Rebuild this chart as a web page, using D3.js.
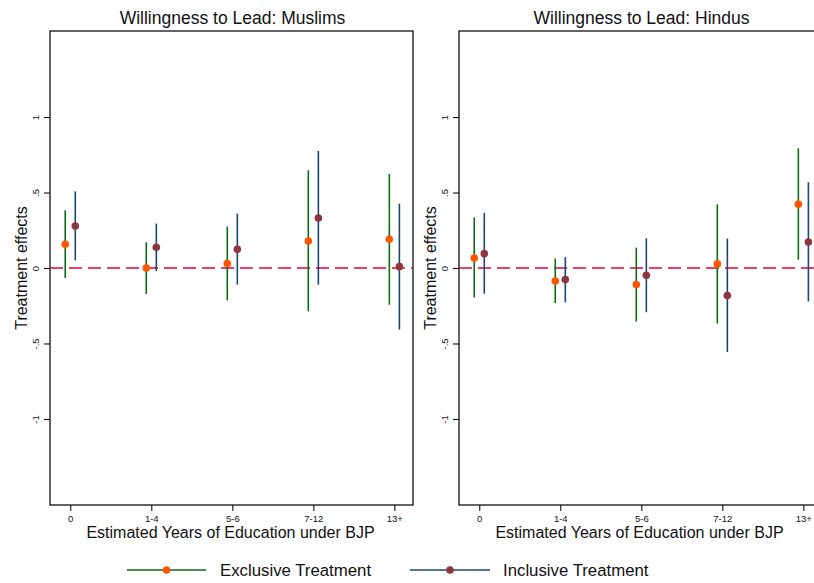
<!DOCTYPE html>
<html>
<head>
<meta charset="utf-8">
<script src="https://cdn.jsdelivr.net/npm/d3@7"></script>
<style>
  body { margin: 0; background: #fff; }
  text { font-family: "Liberation Sans", Arial, Helvetica, sans-serif; fill: #111; }
</style>
</head>
<body>
<div id="chart"></div>
<script>
const categories = ["0", "1-4", "5-6", "7-12", "13+"];
const yTicks = [-1, -0.5, 0, 0.5, 1];
const yTickLabels = ["-1", "-.5", "0", ".5", "1"];

// Muslims panel
const muslimsExclEst = [0.157, 0.000, 0.029, 0.179, 0.190];
const muslimsExclLo  = [-0.066, -0.172, -0.214, -0.287, -0.243];
const muslimsExclHi  = [0.382, 0.170, 0.274, 0.647, 0.623];
const muslimsInclEst = [0.278, 0.137, 0.124, 0.331, 0.009];
const muslimsInclLo  = [0.051, -0.020, -0.110, -0.110, -0.408];
const muslimsInclHi  = [0.508, 0.294, 0.360, 0.775, 0.426];

// Hindus panel
const hindusExclEst = [0.066, -0.086, -0.110, 0.027, 0.422];
const hindusExclLo  = [-0.196, -0.232, -0.355, -0.368, 0.055];
const hindusExclHi  = [0.334, 0.062, 0.135, 0.422, 0.793];
const hindusInclEst = [0.095, -0.077, -0.048, -0.183, 0.172];
const hindusInclLo  = [-0.170, -0.227, -0.293, -0.556, -0.222];
const hindusInclHi  = [0.364, 0.073, 0.197, 0.195, 0.568];

const colExclLine = "#0c6b14";
const colExclDot = "#ff5500";
const colInclLine = "#1a476f";
const colInclDot = "#8e363d";
const colZero = "#e3003a";

const W = 814, H = 583;
const svg = d3.select("#chart").append("svg")
  .attr("width", W)
  .attr("height", H);

const plotTop = 31, plotBottom = 505, plotW = 363;
const y = d3.scaleLinear().domain([-1.57, 1.57]).range([plotBottom, plotTop]);

function series(est, lo, hi) {
  return est.map((e, i) => ({ i: i, est: e, lo: lo[i], hi: hi[i] }));
}

function panel(left, title, excl, incl) {
  const x = d3.scaleLinear().domain([-0.25, 4.23]).range([left, left + plotW]);
  const g = svg.append("g");

  g.append("rect")
    .attr("x", left).attr("y", plotTop)
    .attr("width", plotW).attr("height", plotBottom - plotTop)
    .attr("fill", "#fff")
    .attr("stroke", "#111")
    .attr("stroke-width", 1.3);

  g.append("text")
    .attr("x", left + plotW / 2 + 1)
    .attr("y", 24)
    .attr("text-anchor", "middle")
    .style("font-size", "17.5px")
    .text(title);

  // y axis
  const yAxis = g.append("g")
    .attr("transform", `translate(${left},0)`)
    .call(d3.axisLeft(y).tickValues(yTicks).tickSize(6).tickFormat((d, i) => yTickLabels[i]));
  yAxis.select(".domain").remove();
  yAxis.selectAll(".tick line").attr("stroke", "#111").attr("stroke-width", 1.1);
  yAxis.selectAll(".tick text")
    .attr("x", 0).attr("y", 0).attr("dy", null)
    .attr("text-anchor", "middle")
    .attr("transform", "translate(-11.5,0) rotate(-90)")
    .style("font-size", "9.5px")
    .style("font-family", "'Liberation Sans', Arial, sans-serif");

  g.append("text")
    .attr("transform", `translate(${left - 23.5},${y(0)}) rotate(-90)`)
    .attr("text-anchor", "middle")
    .style("font-size", "16px")
    .text("Treatment effects");

  // x axis
  const xAxis = g.append("g")
    .attr("transform", `translate(0,${plotBottom})`)
    .call(d3.axisBottom(x).tickValues(d3.range(categories.length)).tickSize(6)
      .tickFormat(i => categories[i]));
  xAxis.select(".domain").remove();
  xAxis.selectAll(".tick line").attr("stroke", "#111").attr("stroke-width", 1.1);
  xAxis.selectAll(".tick text")
    .attr("y", 10)
    .style("font-size", "9.5px")
    .style("font-family", "'Liberation Sans', Arial, sans-serif");

  g.append("text")
    .attr("x", left + plotW / 2 - 1)
    .attr("y", 538)
    .attr("text-anchor", "middle")
    .style("font-size", "16px")
    .text("Estimated Years of Education under BJP");

  // zero reference line
  g.append("line")
    .attr("x1", left).attr("x2", left + plotW)
    .attr("y1", y(0)).attr("y2", y(0))
    .attr("stroke", colZero)
    .attr("stroke-width", 1.5)
    .attr("stroke-dasharray", "13,6");

  const off = 0.062;
  const groups = [
    { data: excl, dx: -off, line: colExclLine, dot: colExclDot },
    { data: incl, dx: off, line: colInclLine, dot: colInclDot }
  ];
  groups.forEach(s => {
    g.selectAll(null).data(s.data).enter().append("line")
      .attr("x1", d => x(d.i + s.dx)).attr("x2", d => x(d.i + s.dx))
      .attr("y1", d => y(d.lo)).attr("y2", d => y(d.hi))
      .attr("stroke", s.line)
      .attr("stroke-width", 1.6);
    g.selectAll(null).data(s.data).enter().append("circle")
      .attr("cx", d => x(d.i + s.dx))
      .attr("cy", d => y(d.est))
      .attr("r", 3.8)
      .attr("fill", s.dot);
  });
}

panel(50, "Willingness to Lead: Muslims",
  series(muslimsExclEst, muslimsExclLo, muslimsExclHi),
  series(muslimsInclEst, muslimsInclLo, muslimsInclHi));
panel(459, "Willingness to Lead: Hindus",
  series(hindusExclEst, hindusExclLo, hindusExclHi),
  series(hindusInclEst, hindusInclLo, hindusInclHi));

// legend
const legendItems = [
  { label: "Exclusive Treatment", line: colExclLine, dot: colExclDot, x0: 127, x1: 206, tx: 220 },
  { label: "Inclusive Treatment", line: colInclLine, dot: colInclDot, x0: 410, x1: 490, tx: 503 }
];
const ly = 570;
const legend = svg.append("g");
legendItems.forEach(d => {
  legend.append("line")
    .attr("x1", d.x0).attr("x2", d.x1)
    .attr("y1", ly).attr("y2", ly)
    .attr("stroke", d.line).attr("stroke-width", 1.6);
  legend.append("circle")
    .attr("cx", (d.x0 + d.x1) / 2).attr("cy", ly)
    .attr("r", 3.8).attr("fill", d.dot);
  legend.append("text")
    .attr("x", d.tx).attr("y", ly + 6)
    .style("font-size", "16.8px")
    .text(d.label);
});
</script>
</body>
</html>
